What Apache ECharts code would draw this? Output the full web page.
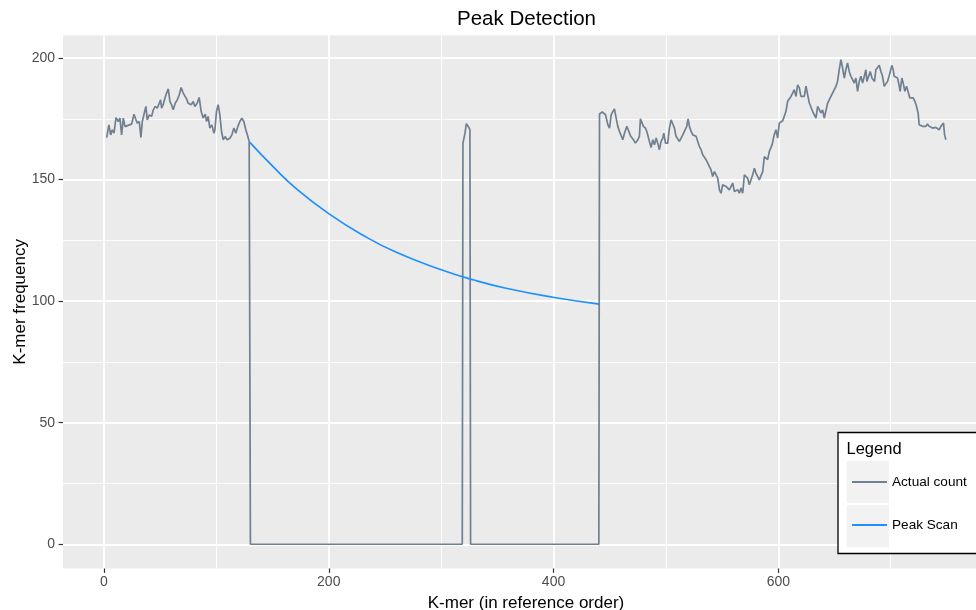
<!DOCTYPE html>
<html>
<head>
<meta charset="utf-8">
<title>Peak Detection</title>
<script src="https://cdn.jsdelivr.net/npm/echarts@6/dist/echarts.min.js"></script>
<style>
  html, body { margin: 0; padding: 0; background: #fff; }
  #chart { width: 976px; height: 610px; }
</style>
</head>
<body>
<div id="chart"></div>
<script>
// K-mer position and actual count
var kmerPos = [
  2.4, 4.4, 5.9, 7.4, 8.9, 10.7, 12.7, 14.2, 15.7, 17.2, 18.7, 20.1, 22.5, 24.6, 26.7, 28.4, 29.6, 31.4, 32.9, 34.1,
  35.8, 37.3, 38.5, 40.3, 42.4, 43.9, 45.6, 47.4, 49.2, 50.4, 51.3, 52.7, 54.2, 55.7, 57.2, 58.7, 60.1, 61.6, 63.4, 65.2,
  67.0, 68.7, 70.5, 71.7, 73.5, 74.9, 76.4, 77.6, 79.4, 80.9, 82.9, 84.7, 86.5, 88.3, 90.1, 91.3, 92.7, 94.2, 96.0, 97.8,
  98.7, 100.1, 101.6, 103.1, 104.6, 106.1, 107.8, 109.6, 112.0, 113.8, 115.6, 117.3, 119.1, 120.9, 122.7, 124.4, 126.2, 128.0, 129.2,
  130.3, 318.8,
  319.4, 321.2, 322.4, 323.6, 324.7, 325.6,
  326.2, 440.3,
  440.9, 443.3, 444.4, 446.2, 448.3, 449.8, 451.3, 452.7, 454.2, 455.7, 457.2, 458.7, 460.1, 461.6, 463.1, 465.2, 467.0, 468.7, 469.9, 471.1,
  472.9, 475.0, 476.4, 477.3, 478.8, 480.0, 481.8, 483.0, 484.1, 485.3, 486.8, 488.3, 489.8, 491.3, 492.7, 494.2, 495.7, 497.2, 498.1, 499.6,
  501.6, 503.1, 504.6, 506.1, 507.6, 509.0, 510.5, 512.0, 513.5, 515.0, 516.7, 518.5, 519.7, 520.9, 522.4, 523.9, 525.3, 526.8, 528.3, 529.8,
  531.3, 532.7, 534.2, 535.7, 537.2, 538.7, 540.1, 541.6, 543.1, 544.6, 546.1, 547.6, 549.0, 550.5, 552.0, 553.5, 555.0, 556.4, 557.9, 559.4,
  560.9, 562.4, 563.9, 565.3, 566.8, 568.3, 569.8, 571.3, 572.7, 574.2, 575.7, 577.2, 578.7, 580.1, 581.6, 583.1, 584.6, 586.1, 587.6, 589.0,
  590.5, 592.0, 594.4, 596.4, 597.9, 599.4, 600.9, 602.4, 603.9, 605.3, 606.8, 608.3, 609.8, 611.3, 612.7, 614.2, 615.7, 617.2, 618.7, 620.1,
  621.6, 623.1, 624.6, 626.1, 627.6, 629.0, 630.5, 632.0, 633.5, 635.0, 636.4, 637.9, 639.4, 640.9, 642.4, 643.9, 645.3, 646.8, 648.3, 649.8,
  651.3, 652.7, 654.2, 655.7, 657.2, 658.7, 660.1, 661.6, 663.1, 664.6, 666.1, 667.6, 669.0, 670.5, 672.0, 673.5, 675.0, 676.4, 677.9, 678.8,
  680.3, 681.8, 683.3, 684.4, 685.6, 686.8, 688.3, 689.8, 691.3, 692.7, 694.2, 695.7, 697.2, 699.3, 701.0, 702.2, 703.1, 704.6, 706.1, 707.6,
  708.4, 709.9, 711.1, 712.6, 714.1, 715.6, 717.0, 718.5, 720.0, 721.5, 723.0, 724.4, 725.3, 726.8, 728.3, 729.8, 731.3, 732.7, 734.2, 735.7,
  737.2, 738.7, 740.1, 741.6, 743.1, 744.6, 746.1, 747.0, 747.9, 749.1
];
var actualCount = [
  167.3, 172.5, 168.4, 170.5, 169.1, 175.5, 173.9, 175.3, 168.4, 175.3, 171.8, 171.8, 172.5, 172.8, 176.9, 176.6, 173.2, 173.9, 167.3, 173.9,
  173.2, 180.1, 174.6, 176.6, 176.0, 178.7, 180.1, 179.4, 181.4, 182.8, 179.4, 180.8, 183.5, 185.6, 187.3, 182.1, 180.8, 178.7, 181.4, 182.8,
  184.9, 187.9, 185.6, 184.9, 183.2, 181.4, 182.1, 180.8, 182.1, 180.1, 181.4, 183.8, 178.0, 175.3, 176.9, 173.9, 176.0, 171.2, 172.5, 169.1,
  170.5, 178.0, 180.8, 176.6, 169.8, 166.4, 167.7, 166.4, 167.0, 168.4, 171.2, 169.1, 171.8, 173.9, 175.3, 173.9, 170.5, 167.7, 165.7,
  0, 0,
  165.0, 169.0, 173.0, 172.5, 171.4, 170.5,
  0, 0,
  177.0, 177.8, 178.0, 176.7, 172.6, 171.2, 176.7, 177.4, 179.1, 175.3, 171.9, 169.8, 170.5, 166.4, 169.1, 171.9, 169.8, 167.8, 167.8, 166.4,
  165.0, 166.4, 167.8, 175.0, 174.6, 171.9, 171.2, 169.8, 167.8, 165.7, 163.2, 166.4, 164.3, 167.1, 165.0, 162.3, 165.7, 167.1, 169.1, 165.0,
  165.0, 171.2, 174.6, 175.0, 171.2, 167.8, 167.1, 165.7, 167.1, 168.4, 167.8, 171.9, 175.0, 171.9, 169.8, 168.4, 167.8, 167.8, 165.7, 163.6,
  162.3, 160.2, 159.5, 158.2, 156.8, 156.1, 154.0, 151.3, 153.3, 154.0, 150.6, 145.8, 144.4, 147.9, 148.6, 147.2, 146.5, 145.8, 145.1, 148.6,
  145.1, 144.4, 145.8, 144.4, 146.5, 144.4, 152.0, 152.7, 150.6, 147.9, 147.2, 152.0, 154.7, 152.7, 152.7, 149.9, 149.2, 153.3, 159.5, 160.2,
  158.2, 161.6, 164.3, 168.5, 170.5, 167.1, 173.3, 172.6, 174.2, 176.0, 178.1, 182.2, 181.5, 184.2, 183.6, 187.0, 184.2, 189.0, 187.7, 184.2,
  184.2, 184.2, 188.4, 184.9, 181.5, 180.8, 178.1, 178.7, 175.3, 180.1, 179.4, 177.4, 178.7, 175.3, 175.3, 181.5, 181.1, 184.2, 183.6, 187.0,
  188.4, 190.4, 195.2, 199.3, 195.9, 191.8, 195.2, 198.0, 194.5, 192.5, 191.1, 189.7, 191.8, 186.3, 190.4, 192.5, 189.7, 189.0, 195.2, 190.4,
  189.7, 194.5, 191.8, 192.5, 190.4, 195.2, 195.2, 197.0, 194.5, 192.5, 188.4, 189.0, 190.4, 193.8, 197.0, 195.2, 192.5, 193.2, 191.8, 188.4,
  186.3, 191.8, 189.7, 186.3, 188.4, 187.7, 183.6, 184.2, 183.6, 182.2, 180.1, 177.4, 172.6, 173.3, 171.9, 172.6, 171.9, 172.9, 171.9, 172.6,
  171.2, 171.2, 171.5, 171.2, 170.5, 171.9, 172.6, 173.3, 168.5, 166.4
];

// peak scan curve
var scanPos = [129.8, 150.5, 171.3, 200.3, 230.5, 260.1, 300.1, 328.2, 357.8, 399.3, 440.7];
var peakScan = [165.3, 155.3, 146.2, 135.9, 127.1, 120.1, 112.9, 108.8, 105.3, 101.6, 98.8];

var xTicks = [0, 200, 400, 600];
var yTicks = [0, 50, 100, 150, 200];

function pairs(xs, ys) {
  return xs.map(function (x, i) { return [x, ys[i]]; });
}

var font = 'Liberation Sans, Arial, sans-serif';
var chart = echarts.init(document.getElementById('chart'));

var option = {
  backgroundColor: '#fff',
  animation: false,
  textStyle: { fontFamily: font },
  title: {
    text: 'Peak Detection',
    left: 457,
    top: 9,
    padding: 0,
    textStyle: { fontSize: 20.5, fontWeight: 'normal', color: '#000', fontFamily: font }
  },
  grid: {
    left: 63,
    right: -13,
    top: 35.2,
    bottom: 41.5,
    outerBoundsMode: 'none',
    containLabel: false,
    show: true,
    backgroundColor: '#EBEBEB',
    borderWidth: 0
  },
  xAxis: {
    type: 'value',
    min: -36.45,
    max: 787.45,
    name: 'K-mer (in reference order)',
    nameLocation: 'middle',
    nameGap: 26,
    nameMoveOverlap: false,
    nameTextStyle: { fontSize: 17, color: '#000', fontFamily: font },
    axisLine: { show: false, onZero: false },
    axisTick: { show: true, customValues: xTicks, length: 4.4, lineStyle: { color: '#333333', width: 1.2 } },
    axisLabel: { customValues: xTicks, margin: 7, fontSize: 14, color: '#4D4D4D', fontFamily: font },
    splitLine: { show: true, lineStyle: { color: '#fff', width: 1.8 } },
    minorTick: { show: false, splitNumber: 2 },
    minorSplitLine: { show: true, lineStyle: { color: '#fff', width: 0.9 } }
  },
  yAxis: {
    type: 'value',
    min: -9.97,
    max: 209.4,
    name: 'K-mer frequency',
    nameLocation: 'middle',
    nameGap: 34,
    nameMoveOverlap: false,
    nameRotate: 90,
    nameTextStyle: { fontSize: 17, color: '#000', fontFamily: font },
    axisLine: { show: false, onZero: false },
    axisTick: { show: true, customValues: yTicks, length: 4.4, lineStyle: { color: '#333333', width: 1.2 } },
    axisLabel: { customValues: yTicks, margin: 8, fontSize: 14, color: '#4D4D4D', fontFamily: font },
    splitLine: { show: true, lineStyle: { color: '#fff', width: 1.8 } },
    minorTick: { show: false, splitNumber: 2 },
    minorSplitLine: { show: true, lineStyle: { color: '#fff', width: 0.9 } }
  },
  legend: {
    orient: 'vertical',
    left: 851,
    top: 475,
    padding: 0,
    itemWidth: 35,
    itemHeight: 14,
    itemGap: 29,
    z: 10,
    itemStyle: { opacity: 0 },
    textStyle: { fontSize: 13.6, color: '#000', fontFamily: font },
    data: ['Actual count', 'Peak Scan']
  },
  // legend box, title and key backgrounds (ggplot style)
  graphic: [
    {
      type: 'rect', z: 5,
      shape: { x: 838, y: 432.5, width: 150, height: 121 },
      style: { fill: '#fff', stroke: '#000', lineWidth: 1.3 }
    },
    {
      type: 'text', z: 6, x: 846.5, y: 449,
      style: { text: 'Legend', fontSize: 16.5, fontFamily: font, fill: '#000', verticalAlign: 'middle' }
    },
    {
      type: 'rect', z: 6,
      shape: { x: 846.7, y: 461, width: 42.3, height: 42 },
      style: { fill: '#F2F2F2' }
    },
    {
      type: 'rect', z: 6,
      shape: { x: 846.7, y: 505, width: 42.3, height: 42.3 },
      style: { fill: '#F2F2F2' }
    }
  ],
  series: [
    {
      name: 'Actual count',
      type: 'line',
      data: pairs(kmerPos, actualCount),
      symbol: 'none',
      lineStyle: { color: '#708090', width: 1.7 },
      itemStyle: { color: '#708090' }
    },
    {
      name: 'Peak Scan',
      type: 'line',
      data: pairs(scanPos, peakScan),
      symbol: 'none',
      smooth: true,
      lineStyle: { color: '#1E90FF', width: 1.7 },
      itemStyle: { color: '#1E90FF' }
    }
  ]
};

chart.setOption(option);
</script>
</body>
</html>
